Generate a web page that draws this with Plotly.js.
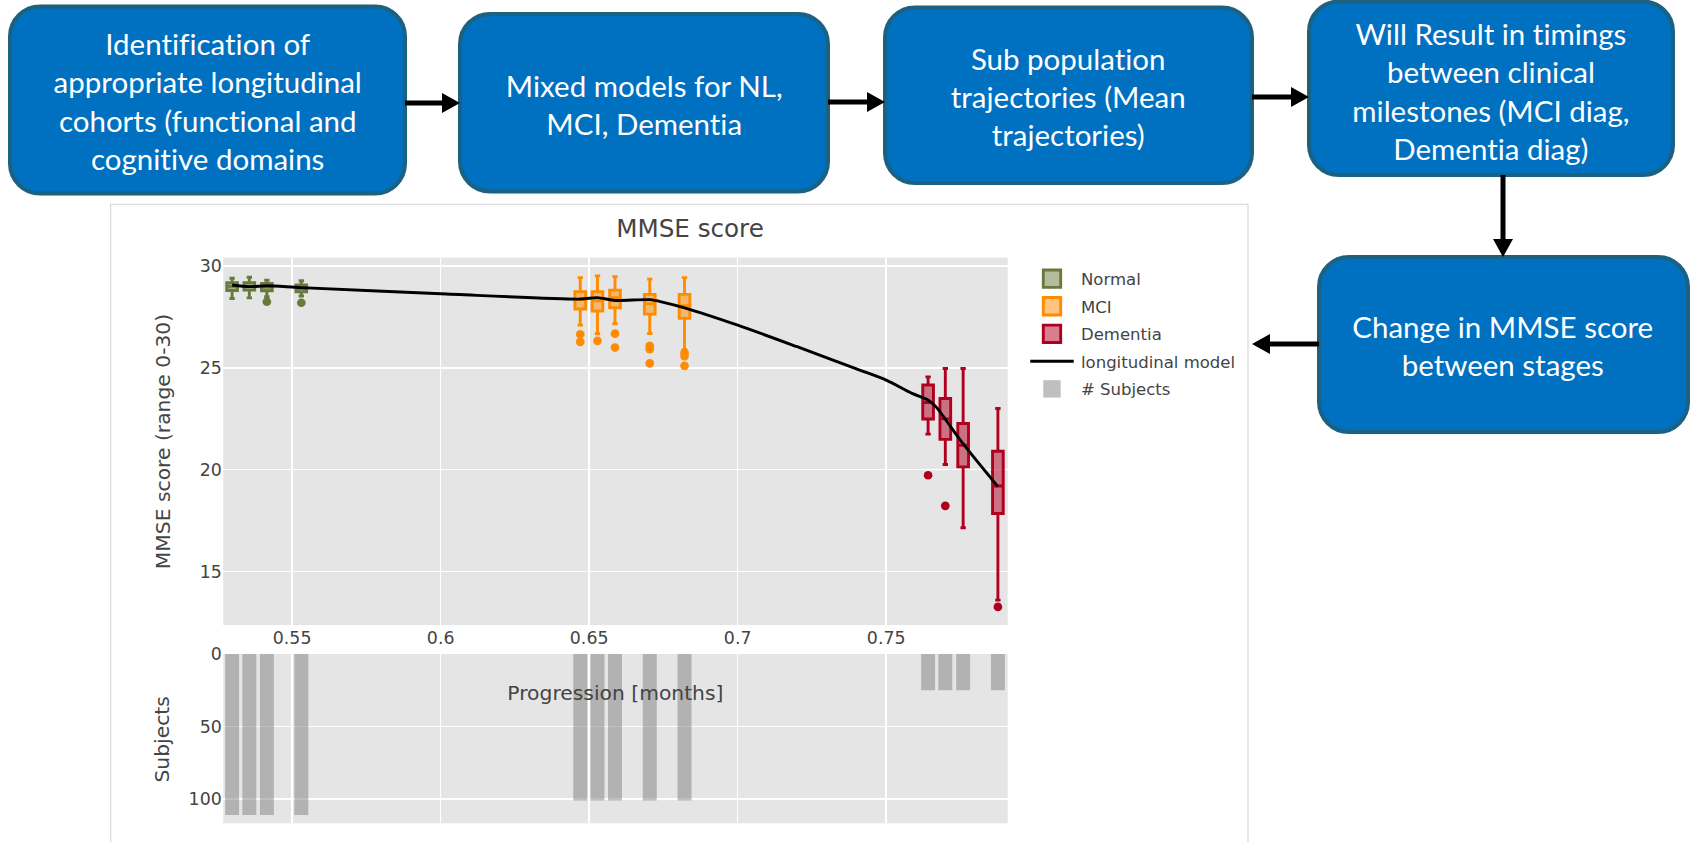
<!DOCTYPE html>
<html>
<head>
<meta charset="utf-8">
<script src="https://cdn.plot.ly/plotly-3.0.1.min.js"></script>
<style>
  html, body { margin: 0; padding: 0; background: #ffffff; }
  #wrap { width: 1690px; height: 842px; overflow: hidden; position: relative; }
  #plot { width: 1166px; height: 581px; transform: scale(1.44940, 1.44923); transform-origin: 0 0; }
  #plot svg text { font-variant-ligatures: none; font-feature-settings: "liga" 0, "clig" 0; }
</style>
</head>
<body>
<div id="wrap"><div id="plot"></div></div>
<script>
// ---------------- DATA ----------------
const normalX      = [0.5298, 0.5356, 0.5415, 0.5531];
const normalUpper  = [29.40, 29.45, 29.31, 29.28];
const normalQ3     = [29.18, 29.18, 29.15, 29.07];
const normalMedian = [29.00, 29.00, 28.97, 28.90];
const normalQ1     = [28.80, 28.82, 28.79, 28.74];
const normalLower  = [28.41, 28.44, 28.49, 28.53];
const normalOutX   = [0.5415, 0.5531];
const normalOutY   = [28.25, 28.20];

const mciX      = [0.6470, 0.6528, 0.6587, 0.6704, 0.6821];
const mciUpper  = [29.43, 29.52, 29.48, 29.36, 29.43];
const mciQ3     = [28.74, 28.74, 28.82, 28.61, 28.61];
const mciMedian = [28.35, 28.30, 28.45, 28.15, 28.05];
const mciQ1     = [27.89, 27.79, 27.95, 27.64, 27.43];
const mciLower  = [27.10, 26.68, 27.17, 26.69, 25.90];
const mciOutX   = [0.6470, 0.6470, 0.6528, 0.6587, 0.6587, 0.6704, 0.6704, 0.6704, 0.6821, 0.6821, 0.6821];
const mciOutY   = [26.65, 26.28, 26.33, 26.68, 26.00, 26.08, 25.92, 25.22, 25.75, 25.58, 25.10];

const demX      = [0.7641, 0.7699, 0.7759, 0.7876];
const demUpper  = [24.56, 24.97, 24.97, 23.01];
const demQ3     = [24.16, 23.50, 22.27, 20.91];
const demMedian = [23.30, 22.50, 21.20, 19.20];
const demQ1     = [22.49, 21.49, 20.14, 17.85];
const demLower  = [21.75, 20.26, 17.15, 13.60];
const demOutX   = [0.7641, 0.7699, 0.7876];
const demOutY   = [19.73, 18.23, 13.27];

const modelX = [0.5298, 0.5356, 0.5415, 0.5531, 0.6000, 0.6470, 0.6528, 0.6587, 0.6704, 0.6750, 0.6821, 0.7000, 0.7200, 0.7400, 0.7500, 0.7587, 0.7641, 0.7670, 0.7699, 0.7758, 0.7876];
const modelY = [29.07, 28.99, 29.03, 28.94, 28.64, 28.38, 28.45, 28.31, 28.35, 28.22, 27.95, 27.10, 26.04, 24.95, 24.40, 23.75, 23.42, 23.05, 22.48, 21.29, 19.17];

const subjX = [0.5298, 0.5356, 0.5415, 0.5531, 0.6470, 0.6528, 0.6587, 0.6704, 0.6821, 0.7641, 0.7699, 0.7759, 0.7876];
const subjN = [111, 111, 111, 111, 101, 101, 101, 101, 101, 25, 25, 25, 25];

const xTickVals = [0.55, 0.6, 0.65, 0.7, 0.75];
const yTickVals = [15, 20, 25, 30];
const y2TickVals = [0, 50, 100];

const flowTexts = [
  "Identification of<br>appropriate longitudinal<br>cohorts (functional and<br>cognitive domains",
  "Mixed models for NL,<br>MCI, Dementia",
  "Sub population<br>trajectories (Mean<br>trajectories)",
  "Will Result in timings<br>between clinical<br>milestones (MCI diag,<br>Dementia diag)",
  "Change in MMSE score<br>between stages"
];

// ---------------- GEOMETRY (page pixels) ----------------
const W = 1690, H = 842;
const PX = v => v / W;
const PY = v => 1 - v / H;
const U = 1690 / 1166; // css scale

const flowBoxes = [
  [10, 6.5, 405, 193.5],
  [460, 14, 828, 191.5],
  [885, 7.5, 1252, 183],
  [1309, 1.5, 1673, 175],
  [1319, 257, 1688, 432]
];
const flowCenters = [[207.5, 100], [644, 104], [1068.5, 96], [1491, 90], [1503.5, 345]];

// arrows: [x0,y0,x1,y1] tip at x1,y1
const arrows = [
  [405, 103, 460, 103],
  [828, 102, 885, 102],
  [1252, 97, 1309, 97],
  [1503, 175, 1503, 257],
  [1319, 344, 1252, 344]
];

function roundRectPath(x0, y0, x1, y1, r) {
  const k = 0.5523 * r;
  const P = (x, y) => PX(x).toFixed(6) + ',' + PY(y).toFixed(6);
  return 'M' + P(x0 + r, y0) +
    ' L' + P(x1 - r, y0) +
    ' C' + P(x1 - r + k, y0) + ' ' + P(x1, y0 + r - k) + ' ' + P(x1, y0 + r) +
    ' L' + P(x1, y1 - r) +
    ' C' + P(x1, y1 - r + k) + ' ' + P(x1 - r + k, y1) + ' ' + P(x1 - r, y1) +
    ' L' + P(x0 + r, y1) +
    ' C' + P(x0 + r - k, y1) + ' ' + P(x0, y1 - r + k) + ' ' + P(x0, y1 - r) +
    ' L' + P(x0, y0 + r) +
    ' C' + P(x0, y0 + r - k) + ' ' + P(x0 + r - k, y0) + ' ' + P(x0 + r, y0) + ' Z';
}

const shapes = [];
// chart frame
shapes.push({type: 'rect', xref: 'paper', yref: 'paper',
  x0: PX(110.7), x1: PX(1248), y0: PY(204.3), y1: PY(860),
  line: {color: '#d2d2d2', width: 1 / U}, fillcolor: 'rgba(0,0,0,0)', layer: 'below'});
// flow boxes
flowBoxes.forEach(b => {
  shapes.push({type: 'path', xref: 'paper', yref: 'paper', path: roundRectPath(b[0], b[1], b[2], b[3], 30),
    fillcolor: '#0070c0', line: {color: '#1b6182', width: 4 / U}, layer: 'above'});
});
// arrows
const headLen = 18, headHalf = 10, shaftW = 5;
arrows.forEach(a => {
  const [x0, y0, x1, y1] = a;
  const dx = Math.sign(x1 - x0), dy = Math.sign(y1 - y0);
  const bx = x1 - dx * headLen, by = y1 - dy * headLen;
  shapes.push({type: 'line', xref: 'paper', yref: 'paper',
    x0: PX(x0), y0: PY(y0), x1: PX(bx + dx * 2), y1: PY(by + dy * 2),
    line: {color: '#000000', width: shaftW / U}, layer: 'above'});
  let p;
  if (dy === 0) {
    p = 'M' + PX(x1) + ',' + PY(y1) + ' L' + PX(bx) + ',' + PY(y1 - headHalf) + ' L' + PX(bx) + ',' + PY(y1 + headHalf) + ' Z';
  } else {
    p = 'M' + PX(x1) + ',' + PY(y1) + ' L' + PX(x1 - headHalf) + ',' + PY(by) + ' L' + PX(x1 + headHalf) + ',' + PY(by) + ' Z';
  }
  shapes.push({type: 'path', xref: 'paper', yref: 'paper', path: p,
    fillcolor: '#000000', line: {color: '#000000', width: 0}, layer: 'above'});
});

const annotations = [];
flowTexts.forEach((t, i) => {
  annotations.push({text: t, xref: 'paper', yref: 'paper', x: PX(flowCenters[i][0]), y: PY(flowCenters[i][1]),
    xanchor: 'center', yanchor: 'middle', showarrow: false, align: 'center',
    font: {family: 'Lato, "Open Sans", sans-serif', size: 29.5 / U, color: '#ffffff'}});
});
// chart axis titles
annotations.push({text: 'MMSE score (range 0-30)', xref: 'paper', yref: 'paper', x: PX(163), y: PY(441),
  textangle: -90, xanchor: 'center', yanchor: 'middle', showarrow: false,
  font: {family: '"DejaVu Sans", Verdana, sans-serif', size: 14, color: '#444'}});
annotations.push({text: 'Subjects', xref: 'paper', yref: 'paper', x: PX(161.5), y: PY(738.5),
  textangle: -90, xanchor: 'center', yanchor: 'middle', showarrow: false,
  font: {family: '"DejaVu Sans", Verdana, sans-serif', size: 14, color: '#444'}});
annotations.push({text: 'Progression [months]', xref: 'paper', yref: 'paper', x: PX(615.5), y: PY(693),
  xanchor: 'center', yanchor: 'middle', showarrow: false,
  font: {family: '"DejaVu Sans", Verdana, sans-serif', size: 14, color: '#444'}});

// ---------------- TRACES ----------------
const boxWidth = 0.0036;
const cN = '#6a7a3c', cM = '#ff8c00', cD = '#b0001f';
function boxTrace(name, color, x, lo, q1, med, q3, up) {
  return {type: 'box', name: name, x: x, q1: q1, median: med, q3: q3, lowerfence: lo, upperfence: up,
    width: boxWidth, boxpoints: false, whiskerwidth: 0.5,
    line: {color: color, width: 2}, marker: {color: color}, xaxis: 'x', yaxis: 'y', hoverinfo: 'skip'};
}
function outTrace(color, x, y) {
  return {type: 'scatter', mode: 'markers', x: x, y: y, marker: {color: color, size: 6},
    showlegend: false, xaxis: 'x', yaxis: 'y', hoverinfo: 'skip'};
}
const traces = [
  boxTrace('Normal', cN, normalX, normalLower, normalQ1, normalMedian, normalQ3, normalUpper),
  boxTrace('MCI', cM, mciX, mciLower, mciQ1, mciMedian, mciQ3, mciUpper),
  boxTrace('Dementia', cD, demX, demLower, demQ1, demMedian, demQ3, demUpper),
  {type: 'scatter', mode: 'lines', name: 'longitudinal model', x: modelX, y: modelY,
    line: {color: '#000000', width: 2, shape: 'spline', smoothing: 0.8}, xaxis: 'x', yaxis: 'y'},
  {type: 'bar', name: '# Subjects', x: subjX, y: subjN, width: 0.0047,
    marker: {color: 'grey', line: {width: 0}}, opacity: 0.5, xaxis: 'x2', yaxis: 'y2'},
  outTrace(cN, normalOutX, normalOutY),
  outTrace(cM, mciOutX, mciOutY),
  outTrace(cD, demOutX, demOutY)
];

const xDom = [PX(223.2), PX(1007.7)];
const layout = {
  width: 1166, height: 581,
  margin: {l: 0, r: 0, t: 0, b: 0, pad: 0},
  paper_bgcolor: '#ffffff', plot_bgcolor: '#e5e5e5',
  font: {family: '"DejaVu Sans", Verdana, sans-serif', size: 12, color: '#444'},
  title: {text: 'MMSE score', x: PX(690), xanchor: 'center', y: PY(228.5), yanchor: 'middle',
    font: {family: '"DejaVu Sans", Verdana, sans-serif', size: 17, color: '#444'}},
  showlegend: true,
  legend: {x: PX(1023), y: PY(257.7), xanchor: 'left', yanchor: 'top', bgcolor: 'rgba(0,0,0,0)',
    font: {size: 11.4, color: '#444'}, traceorder: 'normal'},
  xaxis: {domain: xDom, range: [0.5268, 0.7909], anchor: 'y', tickvals: xTickVals, ticktext: xTickVals.map(String),
    showgrid: true, gridcolor: '#ffffff', gridwidth: 1, zeroline: false, showline: false, ticks: ''},
  yaxis: {domain: [PY(625), PY(257.7)], range: [12.38, 30.41], anchor: 'x', tickvals: yTickVals,
    showgrid: true, gridcolor: '#ffffff', gridwidth: 1, zeroline: false, showline: false, ticks: ''},
  xaxis2: {domain: xDom, range: [0.5268, 0.7909], anchor: 'y2', tickvals: xTickVals, showticklabels: false,
    showgrid: true, gridcolor: '#ffffff', gridwidth: 1, zeroline: false, showline: false, ticks: ''},
  yaxis2: {domain: [PY(823.3), PY(654)], range: [116.8, 0], anchor: 'x2', tickvals: y2TickVals,
    showgrid: true, gridcolor: '#ffffff', gridwidth: 1, zeroline: false, showline: false, ticks: ''},
  boxmode: 'overlay',
  shapes: shapes,
  annotations: annotations
};

Plotly.newPlot('plot', traces, layout, {displayModeBar: false, staticPlot: true});
</script>
</body>
</html>
